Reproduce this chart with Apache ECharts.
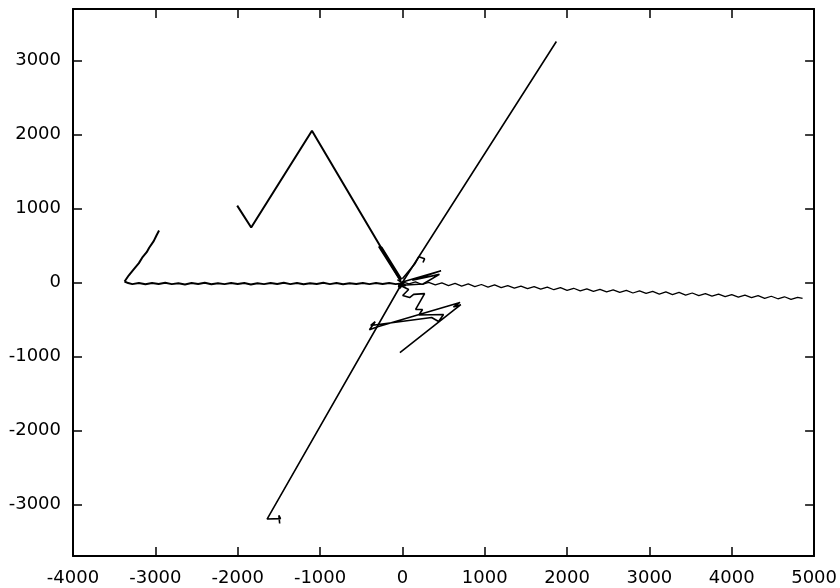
<!DOCTYPE html>
<html>
<head>
<meta charset="utf-8">
<script src="https://cdn.jsdelivr.net/npm/echarts@6/dist/echarts.min.js"></script>
<style>
  body {margin:0;padding:0;overflow:hidden;background:#fff;}
  #main {width:840px;height:588px;}
</style>
</head>
<body>
<div id="main"></div>
<script>
// axis ranges
let xRange = [-4000, 5000];
let yRange = [-3700, 3700];

// paths, points are [x, y]
let leftRise = [[-2955,703],[-2985,640],[-3020,560],[-3075,470],[-3105,410],[-3160,335],[-3200,262],[-3268,172],[-3322,98],[-3374,14]];
let leftFlat = [[-3374,14],[-3330,-8],[-3280,-22],[-3200,-6],[-3120,-24],[-3040,-8],[-2960,-20],[-2880,-4],[-2800,-22],[-2720,-10],[-2640,-26],[-2560,-8],[-2480,-20],[-2400,-4],[-2320,-24],[-2240,-10],[-2160,-22],[-2080,-6],[-2000,-20],[-1920,-8],[-1840,-26],[-1760,-10],[-1680,-22],[-1600,-6],[-1520,-20],[-1440,-4],[-1360,-22],[-1280,-8],[-1200,-24],[-1120,-10],[-1040,-20],[-960,-4],[-880,-22],[-800,-8],[-720,-24],[-640,-10],[-560,-20],[-480,-6],[-400,-22],[-320,-8],[-240,-20],[-160,-6],[-80,-22],[0,-10]];
let rightWave = [[0,10],[80,-20],[160,8],[240,-27],[320,2],[400,-33],[480,-6],[560,-41],[640,-12],[720,-48],[800,-20],[880,-55],[960,-27],[1040,-62],[1120,-33],[1200,-70],[1280,-42],[1360,-76],[1440,-48],[1520,-84],[1600,-56],[1680,-91],[1760,-63],[1840,-98],[1920,-70],[2000,-106],[2080,-78],[2160,-112],[2240,-85],[2320,-120],[2400,-92],[2480,-127],[2560,-99],[2640,-134],[2720,-106],[2800,-142],[2880,-114],[2960,-148],[3040,-121],[3120,-156],[3200,-128],[3280,-163],[3360,-135],[3440,-170],[3520,-142],[3600,-178],[3680,-150],[3760,-184],[3840,-157],[3920,-192],[4000,-164],[4080,-199],[4160,-171],[4240,-206],[4320,-178],[4400,-214],[4480,-186],[4560,-220],[4640,-193],[4720,-228],[4800,-200],[4860,-215]];
let zigzag = [[-2006,1040],[-1836,743],[-1098,2054],[-40,60]];
let spike = [[-20,20],[-285,486],[-250,470],[-10,40]];
let diagonal = [[1870,3260],[0,0],[-1643,-3200],[-1480,-3195],[-1500,-3150],[-1490,-3260]];
let tangle = [[-60,40],[40,-40],[-50,-60],[30,20],[-30,-80],[-45,-27],[76,-95],[4,-176],[88,-203],[137,-160],[270,-150],[161,-365],[245,-365],[200,-440],[500,-432],[440,-527],[355,-473],[-384,-581],[-330,-530],[-400,-640],[-300,-600],[700,-270],[620,-330],[710,-300],[640,-360],[-30,-950]];
let wedge = [[-20,0],[470,160],[120,30],[450,110],[250,-20],[-50,-40]];
let curl = [[0,50],[150,250],[200,350],[270,320],[250,270]];

let myChart = echarts.init(document.getElementById('main'));

let labelFont = {fontFamily:'DejaVu Sans', fontSize:18, color:'#000'};
let frameLine = {show:true, onZero:false, lineStyle:{color:'#000', width:2}};
let innerTick = {show:true, inside:true, length:9, lineStyle:{color:'#000', width:1.5}};

function onThousand(v){
    return v % 1000 === 0 ? String(v) : '';
}

function path(data, width){
    return {
        type:'line',
        data:data,
        showSymbol:false,
        symbol:'none',
        lineStyle:{color:'#000', width:width},
        silent:true
    };
}

let option = {
    animation:false,
    backgroundColor:'#fff',
    grid:{left:73, right:23, top:9, bottom:32},
    xAxis:[
        {type:'value', position:'bottom', min:xRange[0], max:xRange[1], interval:1000,
         axisLine:frameLine, axisTick:innerTick, splitLine:{show:false},
         axisLabel:Object.assign({margin:13, formatter:onThousand}, labelFont)},
        {type:'value', position:'top', min:xRange[0], max:xRange[1], interval:1000,
         axisLine:frameLine, axisTick:innerTick, splitLine:{show:false},
         axisLabel:{show:false}}
    ],
    yAxis:[
        {type:'value', position:'left', min:yRange[0], max:yRange[1], splitNumber:7,
         axisLine:frameLine, axisTick:innerTick, splitLine:{show:false},
         axisLabel:Object.assign({margin:12, formatter:onThousand}, labelFont)},
        {type:'value', position:'right', min:yRange[0], max:yRange[1], splitNumber:7,
         axisLine:frameLine, axisTick:innerTick, splitLine:{show:false},
         axisLabel:{show:false}}
    ],
    series:[
        path(leftRise, 2),
        path(leftFlat, 2),
        path(rightWave, 1.3),
        path(zigzag, 2),
        path(spike, 2),
        path(diagonal, 1.6),
        path(tangle, 1.6),
        path(wedge, 1.6),
        path(curl, 1.6)
    ]
};
myChart.setOption(option);
window.onresize = myChart.resize;
</script>
</body>
</html>
